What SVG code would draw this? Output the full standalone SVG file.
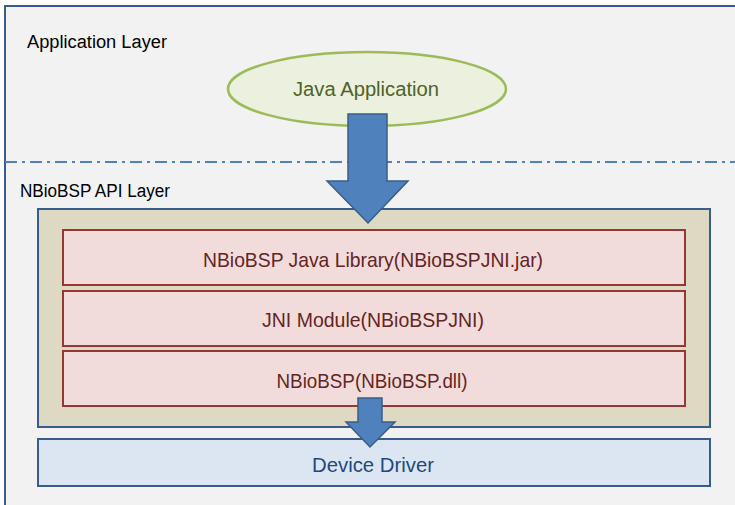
<svg xmlns="http://www.w3.org/2000/svg" width="735" height="505" viewBox="0 0 735 505">
<style>
text{font-family:"Liberation Sans","DejaVu Sans",sans-serif}
.layer{font-size:18px;fill:#000}
.red rect{fill:#f2dcdb;stroke:#953735;stroke-width:2}
.red text{font-size:21px;fill:#632523;text-anchor:middle}
.arrow{fill:#4f81bd;stroke:#385d8a;stroke-width:1.5;stroke-linejoin:miter}
</style>
<rect x="0" y="0" width="735" height="505" fill="#ffffff"/>
<g id="frame">
<rect x="5" y="6" width="740" height="510" fill="#f2f2f2" stroke="#385d8a" stroke-width="2"/>
<line x1="5" y1="162" x2="735" y2="162" stroke="#4f81bd" stroke-width="2" stroke-dasharray="12,5,3,5"/>
<text class="layer" x="27" y="48" textLength="140" lengthAdjust="spacingAndGlyphs">Application Layer</text>
<text class="layer" x="20" y="197" textLength="150" lengthAdjust="spacingAndGlyphs">NBioBSP  API Layer</text>
</g>
<g id="java-app">
<ellipse cx="367" cy="89" rx="139" ry="37" fill="#ebf1de" stroke="#9bbb59" stroke-width="2.5"/>
<text x="366" y="96" font-size="20" fill="#4f6228" text-anchor="middle" textLength="146" lengthAdjust="spacingAndGlyphs">Java Application</text>
</g>
<g id="api-box">
<rect x="38" y="209" width="672" height="218" fill="#ddd9c3" stroke="#385d8a" stroke-width="2"/>
</g>
<g id="java-lib" class="red">
<rect x="63" y="230" width="622" height="55"/>
<text x="373" y="267" textLength="340" lengthAdjust="spacingAndGlyphs">NBioBSP Java Library(NBioBSPJNI.jar)</text>
</g>
<g id="jni-module" class="red">
<rect x="63" y="291" width="622" height="55"/>
<text x="373" y="327" textLength="222" lengthAdjust="spacingAndGlyphs">JNI Module(NBioBSPJNI)</text>
</g>
<g id="nbiobsp-dll" class="red">
<rect x="63" y="351" width="622" height="55"/>
<text x="372" y="388" textLength="191" lengthAdjust="spacingAndGlyphs">NBioBSP(NBioBSP.dll)</text>
</g>
<g id="device-driver">
<rect x="38" y="439" width="672" height="47" fill="#dce6f2" stroke="#385d8a" stroke-width="2"/>
<text x="373" y="472" font-size="21" fill="#1f497d" text-anchor="middle" textLength="122" lengthAdjust="spacingAndGlyphs">Device Driver</text>
</g>
<g id="connectors">
<polygon class="arrow" points="348,114 387,114 387,181 408,181 368,223 327,181 348,181"/>
<polygon class="arrow" points="358,398 382,398 382,422 395,422 370,447 346,422 358,422"/>
</g>
</svg>
